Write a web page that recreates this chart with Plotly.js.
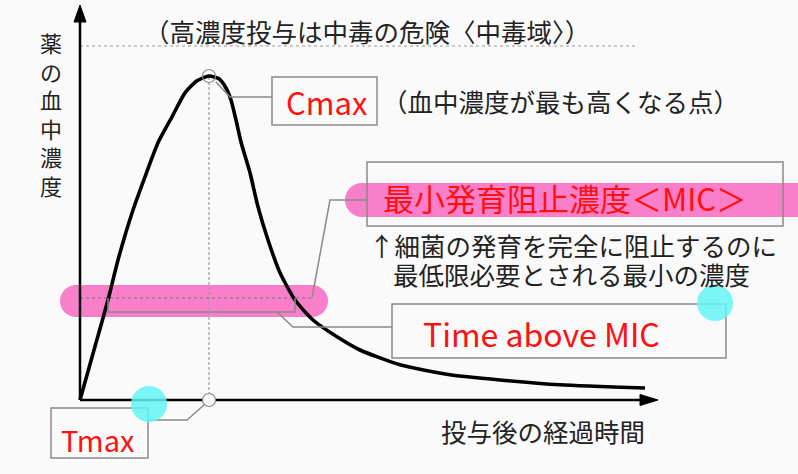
<!DOCTYPE html>
<html><head><meta charset="utf-8">
<script src="https://cdn.plot.ly/plotly-3.0.1.min.js"></script>
<style>html,body{margin:0;padding:0;background:#fafafa;}#chart{width:798px;height:474px;}</style>
</head><body><div id="chart"></div>
<script>
// ---- data ----
const timeH = [0, 0.28, 0.56, 0.76, 1.06, 1.30, 1.56, 1.84, 2.10, 2.34, 2.58, 2.78, 2.92, 3.02, 3.12, 3.22, 3.40, 3.56, 3.76, 4.00, 4.30, 4.66, 5.14, 5.60, 6.40, 7.40, 8.40, 9.60, 11.30];
const conc  = [0, 1.25, 2.50, 3.50, 4.75, 5.58, 6.43, 7.08, 7.68, 7.98, 8.10, 8.03, 7.80, 7.50, 7.00, 6.45, 5.68, 4.83, 4.00, 3.18, 2.50, 2.00, 1.58, 1.25, 0.88, 0.63, 0.50, 0.38, 0.30];
const tMax = 2.58;
const cMax = 8.10;
const micLevel = 2.55;
const toxicLevel = 8.85;
const yLabel = "薬の血中濃度";
const xLabel = "投与後の経過時間";
const toxicText = "（高濃度投与は中毒の危険〈中毒域〉）";
const cmaxNote = "（血中濃度が最も高くなる点）";
const micText = "最小発育阻止濃度＜MIC＞";
const micNote1 = "↑細菌の発育を完全に阻止するのに";
const micNote2 = "最低限必要とされる最小の濃度";
const cmaxLabel = "Cmax";
const tmaxLabel = "Tmax";
const tamLabel = "Time above MIC";

// ---- pixel helpers for layout (plot area = whole figure) ----
const PX = 50, PY = 40, OX = 80, OY = 400;
const X = p => (p - OX) / PX;
const Y = p => (OY - p) / PY;
const xp = v => OX + v * PX;   // data -> px
const yp = v => OY - v * PY;

const shapes = [];
const GRAY = '#8a8a8a';
function rectPx(x0, y0, x1, y1, o) {
  shapes.push(Object.assign({type:'rect', xref:'x', yref:'y', x0:X(x0), x1:X(x1), y0:Y(y1), y1:Y(y0),
    line:{color:GRAY, width:1.5}, fillcolor:'rgba(0,0,0,0)', layer:'above'}, o||{}));
}
function circPx(cx, cy, r, o) {
  shapes.push(Object.assign({type:'circle', xref:'x', yref:'y', x0:X(cx-r), x1:X(cx+r), y0:Y(cy+r), y1:Y(cy-r),
    line:{color:GRAY, width:1.2}, fillcolor:'rgba(0,0,0,0)', layer:'above'}, o||{}));
}
function pathPx(pts, o, close) {
  let d = pts.map((p,i)=> (i? 'L':'M') + X(p[0]) + ',' + Y(p[1])).join(' ') + (close?' Z':'');
  shapes.push(Object.assign({type:'path', xref:'x', yref:'y', path:d, line:{color:GRAY, width:1.5}, layer:'above'}, o||{}));
}
const PINK = '#f97fca';
function pill(x0, x1, yc, h, roundRight) {
  const r = h/2;
  const o = {fillcolor:PINK, line:{width:0}, layer:'below'};
  rectPx(x0 + r, yc - r, roundRight ? x1 - r : x1, yc + r, o);
  circPx(x0 + r, yc, r, o);
  if (roundRight) circPx(x1 - r, yc, r, o);
}

// pink highlights
pill(345, 830, 200, 34, false);
pill(60, 328, 301, 32, true);

// toxic dotted line
shapes.push({type:'line', xref:'x', yref:'y', x0:0, x1:X(638), y0:toxicLevel, y1:toxicLevel, line:{color:'#9a9a9a', width:1, dash:'dot'}, layer:'below'});
// MIC dotted line
shapes.push({type:'line', xref:'x', yref:'y', x0:0, x1:X(312), y0:micLevel, y1:micLevel, line:{color:'#777', width:1, dash:'dot'}, layer:'below'});
// Tmax vertical dashed line
shapes.push({type:'line', xref:'x', yref:'y', x0:tMax, x1:tMax, y0:0, y1:cMax, line:{color:'#9a9a9a', width:1.2, dash:'3px,2px'}, layer:'below'});

// axes arrows
shapes.push({type:'line', xref:'x', yref:'y', x0:0, x1:0, y0:0, y1:Y(20), line:{color:'#000', width:2.5}, layer:'above'});
shapes.push({type:'line', xref:'x', yref:'y', x0:0, x1:X(642), y0:0, y1:0, line:{color:'#000', width:2.5}, layer:'above'});
pathPx([[80,5],[74,22],[86,22]], {fillcolor:'#000', line:{color:'#000', width:1}}, true);
pathPx([[658,400],[640,394.5],[640,405.5]], {fillcolor:'#000', line:{color:'#000', width:1}}, true);

// circles at Cmax / Tmax
circPx(xp(tMax), yp(cMax), 6.5, {});
circPx(xp(tMax), yp(0), 6.5, {fillcolor:'#fafafa'});

// connectors
pathPx([[216,82],[230,97],[272,97]]);
pathPx([[148,420],[187,420],[204,405]]);
pathPx([[312,298],[330,200],[367,200]]);
pathPx([[108,298],[108,312],[295,312],[295,298]]);
pathPx([[277,312],[293,327],[392,327]]);

// boxes
rectPx(272, 77, 377, 125);
rectPx(51, 408, 148, 458);
rectPx(392, 304, 726, 358);
rectPx(367, 162, 783, 226);

// cyan dots
circPx(149, 404, 18, {fillcolor:'rgba(100,245,245,0.85)', line:{width:0}});
circPx(715, 303, 18, {fillcolor:'rgba(100,245,245,0.85)', line:{width:0}});

const JP = '"Noto Sans CJK JP", "Noto Sans", sans-serif';
const annotations = [];
function txt(text, cx, cy, size, color, o) {
  annotations.push(Object.assign({xref:'x', yref:'y', x:X(cx), y:Y(cy), text:text, showarrow:false,
    xanchor:'center', yanchor:'middle', font:{family:JP, size:size, color:color||'#222'}}, o||{}));
}
// y label vertical, one char per line
txt(Array.from(yLabel).join('<br>'), 51, 113, 22);
txt(xLabel, 543, 430, 25.5);
txt(toxicText, 367, 30, 25.5);
txt(cmaxNote, 560, 100, 25.5);
txt(micNote1, 573, 244, 25.5);
txt(micNote2, 571, 273, 25.5);
txt(micText, 565, 197, 31, '#ff1010');
txt(cmaxLabel, 326, 101, 31, '#ff1010');
txt(tmaxLabel, 98, 439, 29, '#ff1010');
txt(tamLabel, 541, 333, 32, '#ff1010');

const trace = {x: timeH, y: conc, type:'scatter', mode:'lines',
  line:{color:'#000', width:3.6, shape:'spline', smoothing:0.6}, hoverinfo:'skip'};

const layout = {
  width:798, height:474, margin:{l:0, r:0, t:0, b:0},
  paper_bgcolor:'#fafafa', plot_bgcolor:'#fafafa', showlegend:false,
  xaxis:{range:[X(0), X(798)], visible:false, fixedrange:true},
  yaxis:{range:[Y(474), Y(0)], visible:false, fixedrange:true},
  shapes:shapes, annotations:annotations
};
Plotly.newPlot('chart', [trace], layout, {staticPlot:true, displayModeBar:false});
</script></body></html>
